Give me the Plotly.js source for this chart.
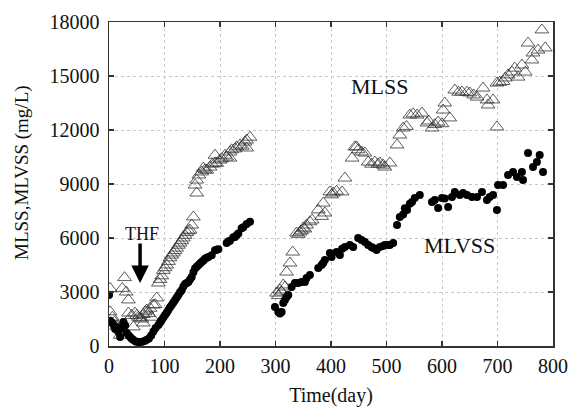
<!DOCTYPE html>
<html><head><meta charset="utf-8">
<script src="https://cdn.plot.ly/plotly-3.0.1.min.js"></script>
<style>html,body{margin:0;padding:0;background:#fff}#chart{width:568px;height:410px}</style>
</head><body><div id="chart"></div>
<script>
// MLSS (open triangles)
var mlssDay = [2,2,6,10,14,20,24,28,31,35,35,41,44,47,50,53,56,59,62,62,65,68,71,74,77,80,83,86,89,92,95,98,101,104,107,110,113,116,119,122,125,128,131,134,137,140,143,146,149,152,155,158,158,162,167,170,173,176,182,186,191,191,194,200,203,209,212,218,218,221,227,230,236,240,245,248,248,254,
302,305,308,311,314,317,320,326,331,338,341,344,347,350,353,356,362,366,377,383,386,389,398,401,404,410,420,425,438,443,446,449,455,461,467,473,479,485,488,494,497,506,519,524,530,536,542,548,555,564,573,576,582,587,593,600,602,605,614,623,630,636,645,650,657,663,674,681,683,692,699,699,704,710,714,719,726,731,737,744,750,755,762,764,773,780,786];
var mlssVal = [3200,1900,1600,1330,1100,600,3200,3800,3000,2560,1830,1700,1060,1830,1700,1600,1560,1500,1280,1750,1900,2000,1800,2100,1600,2280,2300,2670,3500,3700,3900,4200,4350,4500,4700,4900,5050,5170,5300,5440,5600,5720,5850,6000,6150,6300,6400,6440,6720,7170,8940,8500,9220,9500,9670,9880,9780,9770,9940,10100,10600,10170,10150,10330,10400,10600,10500,10780,10440,10900,10950,11060,11170,11100,11330,11000,11440,11600,
2940,2800,3110,3000,3390,3280,4110,4610,5220,6280,6200,6330,6400,6560,6500,6720,6900,7000,7560,7200,7940,7390,8560,8400,8500,8600,8560,9330,10440,11060,11060,10900,10780,10720,10220,10100,10220,10100,10170,10050,9940,10170,11170,11720,12110,12200,12830,12900,12830,12940,12390,12500,12110,12300,12440,12350,13110,13500,12670,14220,14100,14110,14100,14060,13950,13830,14330,13670,13390,13670,12170,14610,14650,14700,14890,15060,15220,15440,14940,15610,15220,16830,15890,16280,16440,17560,16560];

// MLVSS (filled circles)
var mlvssDay = [0,2,5,8,11,14,17,20,23,26,29,32,35,38,41,44,48,52,56,60,64,68,72,76,80,84,89,92,95,98,101,104,107,110,113,116,119,122,125,128,131,134,137,140,143,146,149,152,155,158,161,164,167,170,173,176,179,185,191,194,197,212,215,218,224,227,230,233,239,242,248,254,
299,305,308,311,314,317,320,323,329,335,341,347,353,356,362,377,383,386,389,398,401,410,416,420,425,434,440,449,455,461,467,473,476,482,488,494,497,503,506,512,519,524,530,533,537,542,546,551,560,582,587,593,600,605,611,618,623,632,638,645,654,663,672,681,686,692,699,701,710,719,728,735,744,746,755,764,771,776,782];
var mlvssVal = [2830,1400,1300,1200,950,1060,780,500,1000,1330,1150,720,600,500,400,330,250,220,220,230,280,350,420,580,800,1000,1170,1300,1440,1580,1720,1850,2000,2150,2280,2420,2560,2700,2830,2980,3100,3300,3450,3500,3560,3700,3830,4100,4300,4400,4480,4580,4670,4750,4850,4900,4950,5040,5320,5350,5370,5720,5800,5850,6040,6050,6150,6250,6540,6600,6780,6900,
2170,1890,1800,1890,2390,2560,2720,2830,3280,3500,3500,3560,3560,3780,3940,4330,4500,4610,4780,5170,4950,5220,5060,5400,5500,5610,5500,6000,5890,5780,5610,5500,5440,5330,5500,5560,5610,5610,5610,5720,6720,7170,7300,7650,7560,7900,8000,8220,8390,8000,8110,7670,8220,8200,7720,8280,8560,8390,8500,8390,8280,8280,8560,8110,8280,8390,7560,8940,8940,9500,9670,9390,9670,9220,10720,9940,10220,10610,9670];

var xTicks = [0,100,200,300,400,500,600,700,800];
var yTicks = [0,3000,6000,9000,12000,15000,18000];

var serif = 'Liberation Serif, Times New Roman, serif';

var traces = [
  {x: mlssDay, y: mlssVal, mode: 'markers', type: 'scatter', name: 'MLSS',
   marker: {symbol: 'triangle-up-open', size: 12, color: '#333', line: {width: 0.8, color: '#333'}}},
  {x: mlvssDay, y: mlvssVal, mode: 'markers', type: 'scatter', name: 'MLVSS',
   marker: {symbol: 'circle', size: 8, color: '#000'}}
];

var axisCommon = {
  showline: true, linecolor: '#333', linewidth: 1.5, mirror: 'ticks',
  ticks: 'inside', ticklen: 5, tickcolor: '#333', tickwidth: 1.2,
  showgrid: true, gridcolor: '#c8c8c8', griddash: 'dot', gridwidth: 1,
  zeroline: false, tickfont: {family: serif, size: 20, color: '#111'}
};

var layout = {
  width: 568, height: 410,
  margin: {l: 109, r: 15, t: 22, b: 64},
  paper_bgcolor: '#fff', plot_bgcolor: '#fff',
  showlegend: false,
  xaxis: Object.assign({}, axisCommon, {
    range: [0, 800], tickvals: xTicks, ticktext: xTicks.map(String),
    ticklabelstandoff: 1,
    title: {text: 'Time(day)', font: {family: serif, size: 20, color: '#111'}, standoff: 12}
  }),
  yaxis: Object.assign({}, axisCommon, {
    range: [0, 18000], tickvals: yTicks, ticktext: yTicks.map(String),
    ticklabelstandoff: 4
  }),
  annotations: [
    {xref: 'paper', yref: 'paper', x: 0, y: 0.534, xshift: -87, xanchor: 'center', yanchor: 'middle',
     text: 'MLSS,MLVSS (mg/L)', textangle: -90, showarrow: false,
     font: {family: serif, size: 19, color: '#111'}},
    {x: 488, y: 14390, xref: 'x', yref: 'y', text: 'MLSS', showarrow: false,
     font: {family: serif, size: 22, color: '#111'}},
    {x: 632, y: 5610, xref: 'x', yref: 'y', text: 'MLVSS', showarrow: false,
     font: {family: serif, size: 22, color: '#111'}},
    {x: 59, y: 6200, xref: 'x', yref: 'y', text: 'THF', showarrow: false,
     font: {family: serif, size: 18, color: '#111'}},
    {x: 56, y: 3500, xref: 'x', yref: 'y', ax: 56, ay: 5780, axref: 'x', ayref: 'y',
     text: '', showarrow: true, arrowhead: 2, arrowsize: 1, arrowwidth: 3.5, arrowcolor: '#000'}
  ]
};

Plotly.newPlot('chart', traces, layout, {displayModeBar: false, staticPlot: true});
</script></body></html>
